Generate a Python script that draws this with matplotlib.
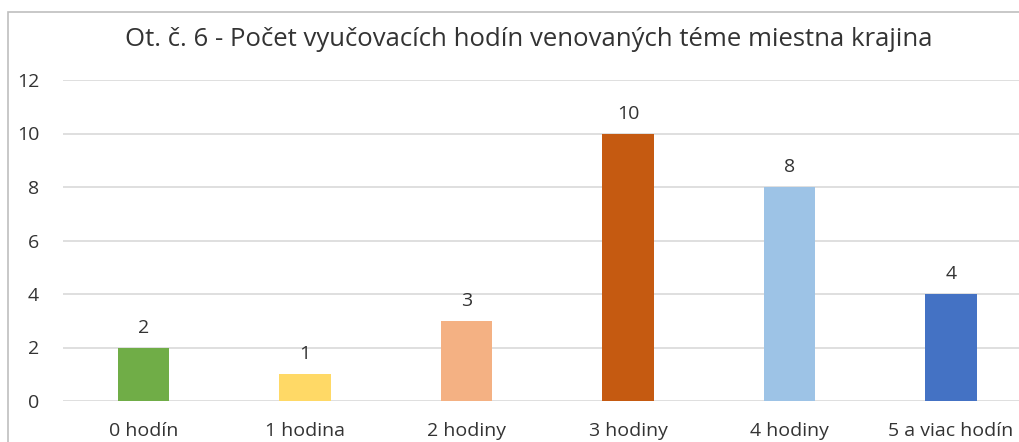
import matplotlib
matplotlib.use("Agg")
import numpy as np
from matplotlib import pyplot as plt
from matplotlib.patches import Rectangle

# data
categories = ["0 hodín", "1 hodina", "2 hodiny", "3 hodiny", "4 hodiny", "5 a viac hodín"]
values = [2, 1, 3, 10, 8, 4]
bar_colors = ["#70AD47", "#FFD966", "#F4B183", "#C55A11", "#9DC3E6", "#4472C4"]
yticks = [0, 2, 4, 6, 8, 10, 12]
title = "Ot. č. 6 - Počet vyučovacích hodín venovaných téme miestna krajina"

plt.rcParams["font.family"] = ["Open Sans", "DejaVu Sans"]
txt_color = "#333333"

W, H = 1020, 442
fig = plt.figure(figsize=(W / 100, H / 100), dpi=100)

# chart border (cropped at right and bottom in the reference)
fig.patches.append(Rectangle((8 / W, -0.1), 1.2, (H - 12) / H + 0.1,
                             transform=fig.transFigure, fill=False,
                             edgecolor="#BFBFBF", linewidth=1.2))

ax = fig.add_axes([62.75 / W, 41 / H, 969 / W, 321 / H])
x = np.arange(len(categories))
bars = ax.bar(x, values, width=0.316, color=bar_colors, zorder=3)

ax.set_xlim(-0.5, 5.5)
ax.set_ylim(0, 12)
ax.set_yticks(yticks)
ax.set_xticks(x)
ax.set_xticklabels(categories)
ax.yaxis.grid(True, color="#D9D9D9", linewidth=1.2, zorder=0)
for s in ax.spines.values():
    s.set_visible(False)
ax.tick_params(axis="both", length=0, labelsize=14, colors=txt_color)
ax.tick_params(axis="y", pad=17)
ax.tick_params(axis="x", pad=15)

for b, v in zip(bars, values):
    ax.text(b.get_x() + b.get_width() / 2, v + 0.56, str(v),
            ha="center", va="baseline", fontsize=14, color=txt_color)

fig.text(529 / W, 1 - 40 / H, title, ha="center", va="center",
         fontsize=18.5, color=txt_color)

fig.savefig("out.png", dpi=100)
